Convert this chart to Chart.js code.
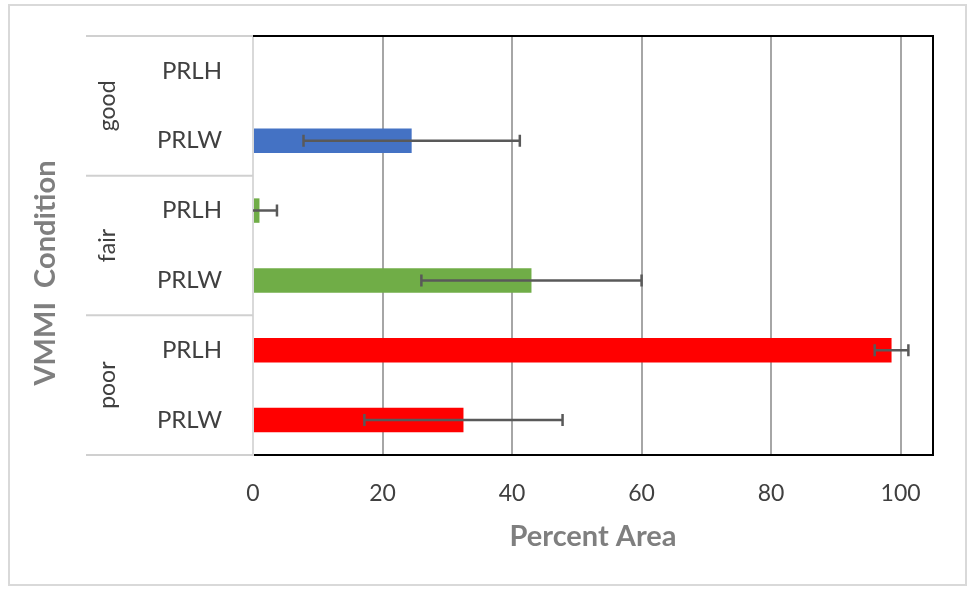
<!DOCTYPE html>
<html>
<head>
<meta charset="utf-8">
<script src="https://cdn.jsdelivr.net/npm/chart.js@4/dist/chart.umd.min.js"></script>
<style>
    html, body { margin: 0; padding: 0; background: #fff; }
    #wrap { width: 974px; height: 590px; position: relative; }
</style>
</head>
<body>
<div id="wrap"><canvas id="chart" width="974" height="590"></canvas></div>
<script>
// Data
const categories = ['PRLH', 'PRLW', 'PRLH', 'PRLW', 'PRLH', 'PRLW'];
const groups = ['good', 'fair', 'poor'];
const groupSize = 2;
const percentArea = [0, 24.5, 1.0, 43.0, 98.6, 32.5];
const errorBars = [0, 16.7, 2.7, 17.0, 2.6, 15.3];
const xTicks = [0, 20, 40, 60, 80, 100];

const barColors = ['#4472C4', '#4472C4', '#70AD47', '#70AD47', '#FF0000', '#FF0000'];
const fontFamily = 'Lato, "Open Sans", sans-serif';

// Frame, group labels, separators, titles, error bars
const extrasPlugin = {
    id: 'extras',
    beforeDraw(chart) {
        const ctx = chart.ctx;
        ctx.save();
        ctx.strokeStyle = '#d9d9d9';
        ctx.lineWidth = 2;
        ctx.strokeRect(9, 5, 957, 580);
        ctx.restore();
    },
    afterDatasetsDraw(chart) {
        const ctx = chart.ctx;
        const x = chart.scales.x;
        const y = chart.scales.y;
        const area = chart.chartArea;

        ctx.save();
        ctx.beginPath();
        ctx.rect(area.left, area.top, area.right - area.left, area.bottom - area.top);
        ctx.clip();
        ctx.strokeStyle = '#595959';
        ctx.lineWidth = 2.5;
        percentArea.forEach((v, i) => {
            const e = errorBars[i];
            if (!e) return;
            const yc = y.getPixelForValue(i);
            const x1 = x.getPixelForValue(v - e);
            const x2 = x.getPixelForValue(v + e);
            ctx.beginPath();
            ctx.moveTo(x1, yc);
            ctx.lineTo(x2, yc);
            ctx.moveTo(x1, yc - 6);
            ctx.lineTo(x1, yc + 6);
            ctx.moveTo(x2, yc - 6);
            ctx.lineTo(x2, yc + 6);
            ctx.stroke();
        });
        ctx.restore();
    },
    afterDraw(chart) {
        const ctx = chart.ctx;
        const y = chart.scales.y;
        const area = chart.chartArea;

        ctx.save();
        // top and right plot border
        ctx.strokeStyle = '#000';
        ctx.lineWidth = 2;
        ctx.beginPath();
        ctx.moveTo(area.left, area.top);
        ctx.lineTo(area.right, area.top);
        ctx.lineTo(area.right, area.bottom);
        ctx.stroke();

        // group separator lines
        ctx.strokeStyle = '#d0d0d0';
        ctx.lineWidth = 2;
        for (let g = 0; g <= groups.length; g++) {
            const yy = y.getPixelForValue(g * groupSize - 0.5);
            ctx.beginPath();
            ctx.moveTo(86, yy);
            ctx.lineTo(area.left, yy);
            ctx.stroke();
        }

        // group labels
        ctx.fillStyle = '#404040';
        ctx.font = '23px ' + fontFamily;
        ctx.textAlign = 'center';
        ctx.textBaseline = 'middle';
        groups.forEach((name, g) => {
            const yy = y.getPixelForValue(g * groupSize + (groupSize - 1) / 2);
            ctx.save();
            ctx.translate(108, yy);
            ctx.rotate(-Math.PI / 2);
            ctx.fillText(name, 0, 0);
            ctx.restore();
        });

        // axis titles
        ctx.fillStyle = '#7f7f7f';
        ctx.font = 'bold 29px ' + fontFamily;
        ctx.save();
        ctx.translate(46, 273);
        ctx.rotate(-Math.PI / 2);
        ctx.fillText('VMMI  Condition', 0, 0);
        ctx.restore();
        ctx.fillText('Percent Area', (area.left + area.right) / 2, 537);
        ctx.restore();
    }
};

new Chart(document.getElementById('chart'), {
    type: 'bar',
    data: {
        labels: categories,
        datasets: [{
            data: percentArea,
            backgroundColor: barColors,
            borderWidth: 0,
            barPercentage: 0.35,
            categoryPercentage: 1
        }]
    },
    options: {
        indexAxis: 'y',
        responsive: false,
        animation: false,
        layout: { padding: { top: 36, right: 41, left: 0, bottom: 0 } },
        plugins: {
            legend: { display: false },
            tooltip: { enabled: false }
        },
        scales: {
            x: {
                min: 0,
                max: 105,
                afterBuildTicks: scale => { scale.ticks = xTicks.map(v => ({ value: v })); },
                afterFit: scale => {
                    scale.height = 135;
                    scale.paddingLeft = 0;
                    scale.paddingRight = 0;
                },
                grid: {
                    drawTicks: false,
                    color: ctx => ctx.tick && ctx.tick.value === 0 ? '#d9d9d9' : '#a6a6a6',
                    lineWidth: 2
                },
                border: { color: '#000', width: 2 },
                ticks: {
                    padding: 25,
                    color: '#404040',
                    font: { family: fontFamily, size: 23 }
                }
            },
            y: {
                afterFit: scale => {
                    scale.width = 253;
                    scale.paddingTop = 0;
                    scale.paddingBottom = 0;
                },
                grid: { display: false, drawTicks: false },
                border: { color: '#d9d9d9', width: 2 },
                ticks: {
                    padding: 31,
                    color: '#404040',
                    font: { family: fontFamily, size: 24 }
                }
            }
        }
    },
    plugins: [extrasPlugin]
});
</script>
</body>
</html>
